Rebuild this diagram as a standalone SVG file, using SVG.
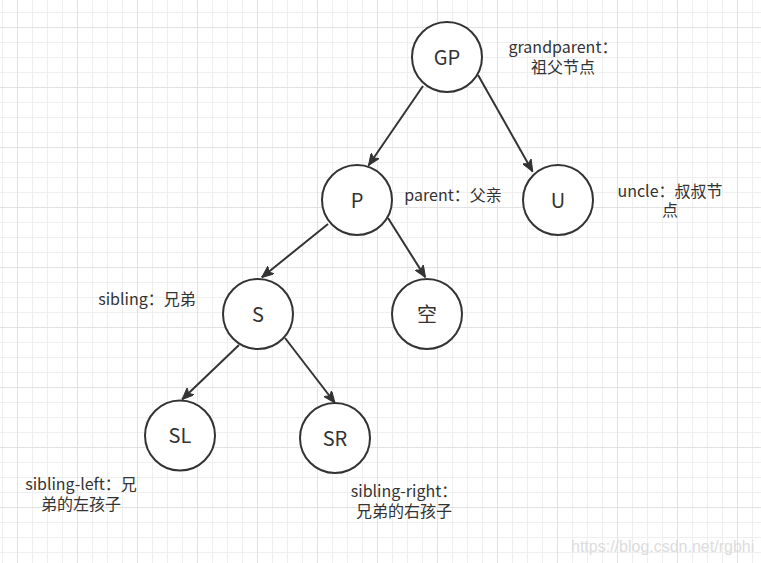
<svg xmlns="http://www.w3.org/2000/svg" width="761" height="563" viewBox="0 0 761 563">
  <defs>
    <pattern id="minor" patternUnits="userSpaceOnUse" x="2" y="12" width="15" height="15">
      <path d="M0.5,0 V15 M0,0.5 H15" stroke="#efefef" stroke-width="1" fill="none"/>
    </pattern>
    <pattern id="major" patternUnits="userSpaceOnUse" x="17" y="27" width="60" height="60">
      <path d="M0.5,0 V60 M0,0.5 H60" stroke="#e2e2e2" stroke-width="1" fill="none"/>
    </pattern>
    <marker id="arrow" viewBox="0 0 12 10" refX="12" refY="5" markerWidth="12" markerHeight="10" markerUnits="userSpaceOnUse" orient="auto">
      <path d="M0,0 L12,5 L0,10 L3,5 Z" fill="#333333" stroke="#333333" stroke-width="1" stroke-linejoin="miter"/>
    </marker>
  </defs>
  <style>
    .node circle { fill: #ffffff; stroke: #333333; stroke-width: 2; }
    .node text { font-family: "Noto Sans CJK SC", sans-serif; font-size: 20px; fill: #333333; text-anchor: middle; }
    .label { font-family: "Noto Sans CJK SC", sans-serif; font-size: 16px; fill: #333333; text-anchor: middle; }
    .edge { stroke: #333333; stroke-width: 2; fill: none; marker-end: url(#arrow); }
    .wm { font-family: "Liberation Sans", Arial, sans-serif; font-size: 16px; fill: #dcdcdc; }
  </style>
  <rect x="0" y="0" width="761" height="563" fill="#ffffff"/>
  <rect x="0" y="0" width="761" height="563" fill="url(#minor)"/>
  <rect x="0" y="0" width="761" height="563" fill="url(#major)"/>

  <g id="connectors">
    <line class="edge" x1="423" y1="86" x2="368.5" y2="165.5"/>
    <line class="edge" x1="478" y1="75" x2="532.7" y2="171.7"/>
    <line class="edge" x1="328" y1="224" x2="261.7" y2="277.5"/>
    <line class="edge" x1="388" y1="218" x2="425.5" y2="277.5"/>
    <line class="edge" x1="239" y1="345" x2="182" y2="399.5"/>
    <line class="edge" x1="285" y1="338" x2="335" y2="403"/>
  </g>

  <g id="node-GP" class="node">
    <circle cx="447" cy="57" r="35"/>
    <text x="447" y="64.5">GP</text>
  </g>
  <g id="node-P" class="node">
    <circle cx="357" cy="200" r="35"/>
    <text x="357" y="207.5">P</text>
  </g>
  <g id="node-U" class="node">
    <circle cx="558" cy="200" r="35"/>
    <text x="558" y="207.5">U</text>
  </g>
  <g id="node-S" class="node">
    <circle cx="258" cy="314" r="35"/>
    <text x="258" y="321.5">S</text>
  </g>
  <g id="node-empty" class="node">
    <circle cx="427" cy="314" r="35"/>
    <text x="427" y="321.5">空</text>
  </g>
  <g id="node-SL" class="node">
    <circle cx="180" cy="435.5" r="35"/>
    <text x="180" y="443">SL</text>
  </g>
  <g id="node-SR" class="node">
    <circle cx="335" cy="438" r="35"/>
    <text x="335" y="445.5">SR</text>
  </g>

  <g id="labels">
    <text class="label" x="563" y="53">grandparent：</text>
    <text class="label" x="563" y="73">祖父节点</text>
    <text class="label" x="453" y="201">parent：父亲</text>
    <text class="label" x="670" y="197">uncle：叔叔节</text>
    <text class="label" x="670" y="216">点</text>
    <text class="label" x="147" y="305">sibling：兄弟</text>
    <text class="label" x="81" y="490">sibling-left：兄</text>
    <text class="label" x="81" y="510">弟的左孩子</text>
    <text class="label" x="404" y="497">sibling-right：</text>
    <text class="label" x="404" y="517">兄弟的右孩子</text>
  </g>

  <text class="wm" x="571" y="552">https://blog.csdn.net/rgbhi</text>
</svg>
